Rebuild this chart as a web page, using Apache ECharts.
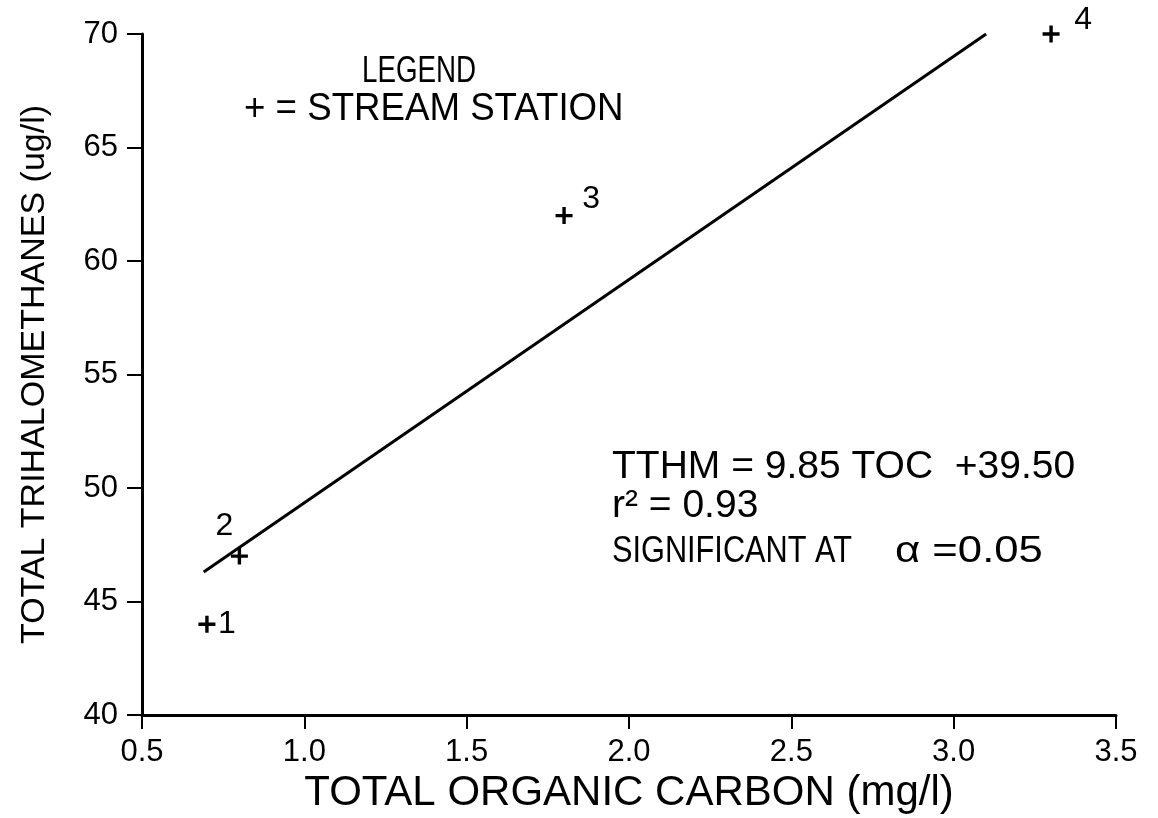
<!DOCTYPE html>
<html>
<head>
<meta charset="utf-8">
<script src="https://cdn.jsdelivr.net/npm/echarts@6/dist/echarts.min.js"></script>
<style>
html,body{margin:0;padding:0;background:#fff;}
#chart{width:1158px;height:818px;}
</style>
</head>
<body>
<div id="chart"></div>
<script>
// stream stations: TOC (mg/l) vs TTHM (ug/l)
var stationIds = ['1', '2', '3', '4'];
var tocValues = [0.70, 0.80, 1.80, 3.30];
var tthmValues = [44.0, 47.0, 62.0, 70.0];
// ends of the fitted line TTHM = 9.85 TOC + 39.50
var fitToc = [0.69, 3.10];
var fitTthm = [46.3, 70.0];
var xTicks = [0.5, 1.0, 1.5, 2.0, 2.5, 3.0, 3.5];
var yTicks = [40, 45, 50, 55, 60, 65, 70];

var plain = '"Liberation Sans", Arial, sans-serif';
var plus = 'path://M4,0H6V4H10V6H6V10H4V6H0V4H4Z';

var points = [];
for (var i = 0; i < stationIds.length; i++) {
    points.push({value: [tocValues[i], tthmValues[i]], name: stationIds[i]});
}
var fitLine = [];
for (var j = 0; j < fitToc.length; j++) {
    fitLine.push([fitToc[j], fitTthm[j]]);
}
// where each station number sits next to its cross
var labelOffsets = [[20, 0], [-15, -30], [27, -16], [32, -14]];
points.forEach(function(p, k){
    p.label = {offset: labelOffsets[k]};
});

var myChart = echarts.init(document.getElementById('chart'));
var option = {
    backgroundColor: '#fff',
    animation: false,
    grid: {left: 142, right: 42, top: 34, bottom: 103, outerBoundsMode: 'none', containLabel: false},
    xAxis: {
        type: 'value',
        min: xTicks[0],
        max: xTicks[xTicks.length - 1],
        interval: 0.5,
        name: 'TOTAL ORGANIC CARBON (mg/l)',
        nameLocation: 'middle',
        nameGap: 56,
        nameTextStyle: {fontFamily: plain, fontSize: 42, color: '#000'},
        axisLine: {lineStyle: {color: '#000', width: 3}},
        axisTick: {length: 14, lineStyle: {color: '#000', width: 2}},
        axisLabel: {margin: 22, fontFamily: plain, fontSize: 31, color: '#000',
            formatter: function(v){ return v.toFixed(1); }},
        splitLine: {show: false}
    },
    yAxis: {
        type: 'value',
        min: yTicks[0],
        max: yTicks[yTicks.length - 1],
        interval: 5,
        name: 'TOTAL TRIHALOMETHANES (ug/l)',
        nameLocation: 'middle',
        nameGap: 90,
        nameTextStyle: {fontFamily: plain, fontSize: 34, color: '#000'},
        axisLine: {lineStyle: {color: '#000', width: 3}},
        axisTick: {length: 15, lineStyle: {color: '#000', width: 2}},
        axisLabel: {margin: 24, fontFamily: plain, fontSize: 31, color: '#000'},
        splitLine: {show: false}
    },
    series: [
        {
            type: 'line',
            data: fitLine,
            showSymbol: false,
            lineStyle: {color: '#000', width: 3}
        },
        {
            type: 'scatter',
            data: points,
            symbol: plus,
            symbolSize: 17,
            itemStyle: {color: '#000', opacity: 1},
            label: {
                show: true,
                formatter: '{b}',
                position: 'inside',
                fontFamily: plain,
                fontSize: 32,
                color: '#000',
                textBorderWidth: 0
            }
        }
    ],
    graphic: [
        {type: 'text', left: 362, top: 53,
            style: {text: 'LEGEND', font: '37px ' + plain, fill: '#000'}, scaleX: 0.75},
        {type: 'text', left: 244, top: 90,
            style: {text: '+ = STREAM STATION', font: '39px ' + plain, fill: '#000'}, scaleX: 0.94},
        {type: 'text', left: 612, top: 448,
            style: {text: 'TTHM = 9.85 TOC  +39.50', font: '39px ' + plain, fill: '#000'}},
        {type: 'text', left: 612, top: 487,
            style: {text: 'r² = 0.93', font: '39px ' + plain, fill: '#000'}},
        {type: 'text', left: 612, top: 533,
            style: {text: 'SIGNIFICANT AT', font: '37px ' + plain, fill: '#000'}, scaleX: 0.83},
        {type: 'text', left: 895, top: 533,
            style: {text: 'α =0.05', font: '37px ' + plain, fill: '#000'}, scaleX: 1.18}
    ]
};
myChart.setOption(option);
</script>
</body>
</html>
